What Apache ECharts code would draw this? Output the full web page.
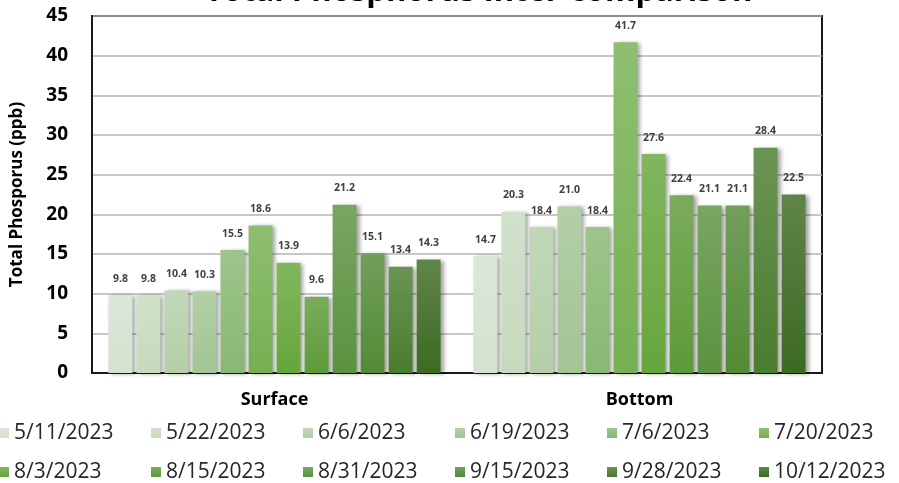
<!DOCTYPE html>
<html>
<head>
<meta charset="utf-8">
<script src="https://cdn.jsdelivr.net/npm/echarts@6/dist/echarts.min.js"></script>
<style>html,body{margin:0;padding:0;background:#fff;}#c{width:899px;height:483px;}</style>
</head>
<body>
<div id="c"></div>
<script>
const titleText = 'Total Phosphorus Inter-comparison';
const yAxisName = 'Total Phosporus (ppb)';
const categories = ['Surface', 'Bottom'];
const dates = ['5/11/2023','5/22/2023','6/6/2023','6/19/2023','7/6/2023','7/20/2023','8/3/2023','8/15/2023','8/31/2023','9/15/2023','9/28/2023','10/12/2023'];
const surfaceValues = [9.8, 9.8, 10.4, 10.3, 15.5, 18.6, 13.9, 9.6, 21.2, 15.1, 13.4, 14.3];
const bottomValues = [14.7, 20.3, 18.4, 21.0, 18.4, 41.7, 27.6, 22.4, 21.1, 21.1, 28.4, 22.5];
const colors = ['#d4e2cf','#c6dabd','#b3cfa8','#a2c594','#87b872','#76b052','#66a63b','#5e9a38','#5b9240','#538a36','#4a7c2e','#3d6a22'];

function lighten(hex, f) {
  const n = parseInt(hex.slice(1), 16);
  let r = (n >> 16) & 255, g = (n >> 8) & 255, b = n & 255;
  r = Math.round(r + (255 - r) * f); g = Math.round(g + (255 - g) * f); b = Math.round(b + (255 - b) * f);
  return 'rgb(' + r + ',' + g + ',' + b + ')';
}

const series = dates.map((d, i) => ({
  name: d,
  type: 'bar',
  data: [surfaceValues[i], bottomValues[i]],
  barGap: '17%',
  barCategoryGap: '9%',
  itemStyle: {
    color: new echarts.graphic.LinearGradient(0, 0, 0, 1, [
      { offset: 0, color: lighten(colors[i], 0.18) },
      { offset: 1, color: colors[i] }
    ]),
    shadowColor: 'rgba(0,0,0,0.35)',
    shadowBlur: 4,
    shadowOffsetX: 3,
    shadowOffsetY: 1
  },
  label: {
    show: true,
    position: 'top',
    distance: 11,
    formatter: p => p.value.toFixed(1),
    fontFamily: 'Open Sans',
    fontSize: 10.5,
    fontWeight: 'bold',
    color: '#404040'
  }
}));

const chart = echarts.init(document.getElementById('c'), null, { renderer: 'canvas' });
chart.setOption({
  animation: false,
  backgroundColor: '#ffffff',
  color: colors,
  title: {
    text: titleText,
    left: 200,
    top: -28,
    textStyle: { fontFamily: 'Open Sans', fontSize: 31, fontWeight: 'bold', color: '#000' }
  },
  grid: {
    left: 92, right: 77, top: 16, bottom: 110,
    show: true, borderColor: '#1a1a1a', borderWidth: 2, backgroundColor: 'transparent'
  },
  legend: {
    data: dates,
    left: -6,
    top: 416,
    width: 940,
    itemWidth: 10,
    itemHeight: 10,
    itemGap: 15,
    icon: 'rect',
    textStyle: {
      fontFamily: 'Open Sans', fontSize: 21, color: '#262626', width: 122, lineHeight: 24
    }
  },
  xAxis: {
    type: 'category',
    data: categories,
    axisTick: { show: false },
    axisLine: { lineStyle: { color: '#1a1a1a', width: 2 } },
    axisLabel: { fontFamily: 'Open Sans', fontSize: 18, fontWeight: 'bold', color: '#000', margin: 18 }
  },
  yAxis: {
    type: 'value',
    min: 0, max: 45, interval: 5,
    name: yAxisName,
    nameLocation: 'middle',
    nameGap: 66,
    nameTextStyle: { fontFamily: 'Open Sans', fontSize: 17, fontWeight: 'bold', color: '#000' },
    axisLine: { show: true, lineStyle: { color: '#1a1a1a', width: 2 } },
    axisTick: { show: false },
    axisLabel: { fontFamily: 'Open Sans', fontSize: 19, fontWeight: 'bold', color: '#000', margin: 24 },
    splitLine: { lineStyle: { color: '#b4b4b4', width: 1.5 } }
  },
  series: series
});
</script>
</body>
</html>
